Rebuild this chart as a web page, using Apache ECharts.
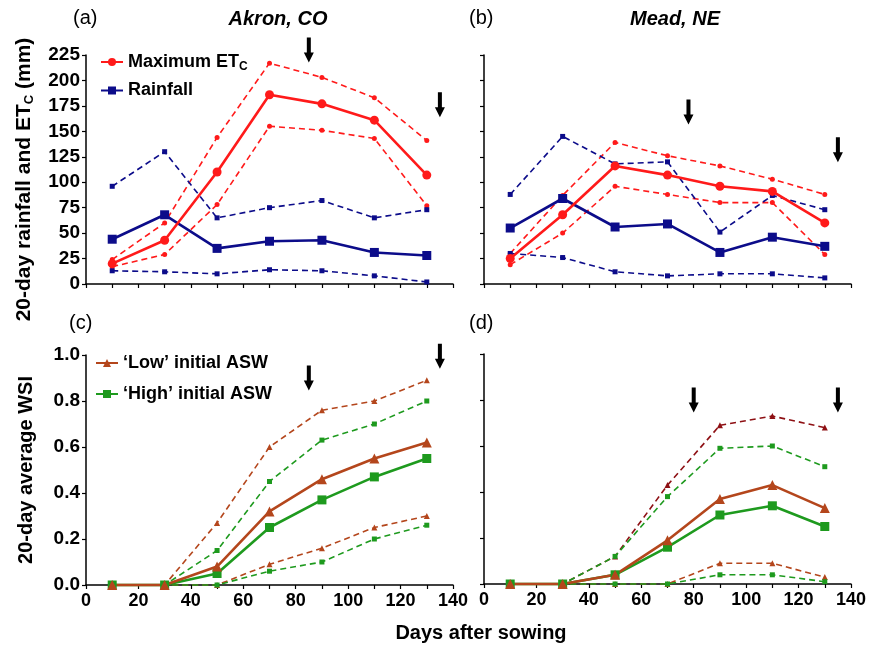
<!DOCTYPE html>
<html><head><meta charset="utf-8">
<script src="https://cdn.jsdelivr.net/npm/echarts@6/dist/echarts.min.js"></script>
<style>html,body{margin:0;padding:0;background:#fff}#c{width:874px;height:646px}</style>
</head><body><div id="c"></div>
<script>
const days = [10, 30, 50, 70, 90, 110, 130];
const rainTicks = [0, 25, 50, 75, 100, 125, 150, 175, 200, 225];
const wsiTicks = [0, 0.2, 0.4, 0.6, 0.8, 1.0];
const dayTicks = [0, 20, 40, 60, 80, 100, 120, 140];

// Akron, CO (a)
const akEt = [20, 43, 110, 186, 177, 161, 107];
const akEtHi = [24, 60, 144, 217, 203, 183, 141];
const akEtLo = [17, 29, 78, 155, 151, 143, 77];
const akRain = [44, 68, 35, 42, 43, 31, 28];
const akRainHi = [96, 130, 65, 75, 82, 65, 73];
const akRainLo = [13, 12, 10, 14, 13, 8, 2];
// Mead, NE (b)
const meEt = [25, 68, 116, 107, 96, 91, 60];
const meEtHi = [30, 87, 139, 126, 116, 103, 88];
const meEtLo = [19, 50, 96, 88, 80, 80, 29];
const meRain = [55, 84, 56, 59, 31, 46, 37];
const meRainHi = [88, 145, 118, 120, 51, 87, 73];
const meRainLo = [30, 26, 12, 8, 10, 10, 6];
// WSI Akron (c)
const akLow = [0, 0, 0.08, 0.32, 0.46, 0.55, 0.62];
const akHigh = [0, 0, 0.05, 0.25, 0.37, 0.47, 0.55];
const akLowHi = [0, 0, 0.27, 0.60, 0.76, 0.80, 0.89];
const akHighHi = [0, 0, 0.15, 0.45, 0.63, 0.70, 0.80];
const akLowLo = [0, 0, 0, 0.09, 0.16, 0.25, 0.30];
const akHighLo = [0, 0, 0, 0.06, 0.10, 0.20, 0.26];
// WSI Mead (d)
const meLow = [0, 0, 0.04, 0.19, 0.37, 0.43, 0.33];
const meHigh = [0, 0, 0.04, 0.16, 0.30, 0.34, 0.25];
const meLowHi = [0, 0, 0.12, 0.43, 0.69, 0.73, 0.68];
const meHighHi = [0, 0, 0.12, 0.38, 0.59, 0.60, 0.51];
const meLowLo = [0, 0, 0, 0, 0.09, 0.09, 0.03];
const meHighLo = [0, 0, 0, 0, 0.04, 0.04, 0.01];
// Arrows (day, value)
const arrowsA = [[85, 230], [135, 176]];
const arrowsB = [[78, 169], [135, 132]];
const arrowsC = [[85, 0.90], [135, 0.995]];
const arrowsD = [[80, 0.80], [135, 0.80]];

const RED = '#ff1a1a', NAVY = '#0c0c8a', BROWN = '#b4461c', GREEN = '#1e9a1e', MAROON = '#8e1014';
const FONT = 'Liberation Sans, Arial, sans-serif';
const pts = v => days.map((d, i) => [d, v[i]]);

function line(name, idx, vals, color, symbol, size, dashed) {
  return {
    name, type: 'line', xAxisIndex: idx, yAxisIndex: idx, data: pts(vals),
    symbol, symbolSize: size, showSymbol: true,
    lineStyle: { color, width: dashed ? 1.6 : 2.6, type: dashed ? [6, 4] : 'solid' },
    itemStyle: { color },
    z: dashed ? 2 : 4, animation: false, clip: false
  };
}
const arrowPath = 'path://M3,0 L7,0 L7,15 L10,15 L5,25 L0,15 L3,15 Z';
function arrows(idx, arr) {
  return { type: 'scatter', xAxisIndex: idx, yAxisIndex: idx, data: arr, symbol: arrowPath,
    symbolSize: [10, 25], itemStyle: { color: '#000', opacity: 1 }, clip: false, z: 6, animation: false, silent: true };
}

const grids = [
  { left: 86, top: 55, width: 367, height: 229 },
  { left: 484, top: 55, width: 367, height: 229 },
  { left: 86, top: 355, width: 367, height: 230 },
  { left: 484, top: 354, width: 367, height: 230 }
];
const axLine = { show: true, onZero: false, lineStyle: { color: '#000', width: 1.5 } };
const lblStyle = { color: '#000', fontFamily: FONT, fontWeight: 'bold' };

const xAxes = grids.map((g, i) => ({
  gridIndex: i, type: 'value', min: 0, max: 140, interval: 10,
  axisLine: axLine, splitLine: { show: false },
  axisTick: { show: true, inside: false, length: 4, lineStyle: { color: '#000', width: 1.2 } },
  axisLabel: i < 2 ? { show: false } : Object.assign({ margin: 7, fontSize: 18,
    formatter: v => (dayTicks.indexOf(v) >= 0 ? String(v) : '') }, lblStyle)
}));
const yAxes = grids.map((g, i) => {
  const top = i < 2;
  const ticks = top ? rainTicks : wsiTicks;
  const ax = {
    gridIndex: i, type: 'value', min: ticks[0], max: ticks[ticks.length - 1],
    interval: top ? 25 : 0.2,
    axisLine: axLine, splitLine: { show: false },
    axisTick: { show: true, inside: false, length: 4, lineStyle: { color: '#000', width: 1.2 } },
    axisLabel: (i % 2 === 1) ? { show: false } : Object.assign({ margin: 6, fontSize: 19,
      formatter: v => top ? String(v) : v.toFixed(1) }, lblStyle)
  };
  if (i === 0) {
    ax.name = '{a|20-day rainfall and ET}{s|C}{a| (mm)}';
    ax.nameLocation = 'middle'; ax.nameGap = 50;
    ax.nameTextStyle = { padding: [0, 20, 0, 0], rich: {
      a: { fontFamily: FONT, fontWeight: 'bold', fontSize: 21, color: '#000' },
      s: { fontFamily: FONT, fontWeight: 'bold', fontSize: 13, color: '#000', verticalAlign: 'bottom', padding: [11, 0, 0, 0] } } };
  }
  if (i === 2) {
    ax.name = '20-day average WSI';
    ax.nameLocation = 'middle'; ax.nameGap = 50;
    ax.nameTextStyle = { fontFamily: FONT, fontWeight: 'bold', fontSize: 20, color: '#000' };
  }
  return ax;
});

const series = [
  line('akEtHi', 0, akEtHi, RED, 'circle', 5, true),
  line('akEtLo', 0, akEtLo, RED, 'circle', 5, true),
  line('akRainHi', 0, akRainHi, NAVY, 'rect', 5, true),
  line('akRainLo', 0, akRainLo, NAVY, 'rect', 5, true),
  line('Rainfall', 0, akRain, NAVY, 'rect', 9, false),
  line('Maximum ETC', 0, akEt, RED, 'circle', 9, false),
  arrows(0, arrowsA),

  line('meEtHi', 1, meEtHi, RED, 'circle', 5, true),
  line('meEtLo', 1, meEtLo, RED, 'circle', 5, true),
  line('meRainHi', 1, meRainHi, NAVY, 'rect', 5, true),
  line('meRainLo', 1, meRainLo, NAVY, 'rect', 5, true),
  line('meRain', 1, meRain, NAVY, 'rect', 9, false),
  line('meEt', 1, meEt, RED, 'circle', 9, false),
  arrows(1, arrowsB),

  line('akLowHi', 2, akLowHi, BROWN, 'triangle', 6, true),
  line('akHighHi', 2, akHighHi, GREEN, 'rect', 5, true),
  line('akLowLo', 2, akLowLo, BROWN, 'triangle', 6, true),
  line('akHighLo', 2, akHighLo, GREEN, 'rect', 5, true),
  line('\u2018High\u2019 initial ASW', 2, akHigh, GREEN, 'rect', 9, false),
  line('\u2018Low\u2019 initial ASW', 2, akLow, BROWN, 'triangle', 10, false),
  arrows(2, arrowsC),

  line('meLowHi', 3, meLowHi, MAROON, 'triangle', 6, true),
  line('meHighHi', 3, meHighHi, GREEN, 'rect', 5, true),
  line('meLowLo', 3, meLowLo, BROWN, 'triangle', 6, true),
  line('meHighLo', 3, meHighLo, GREEN, 'rect', 5, true),
  line('meHigh', 3, meHigh, GREEN, 'rect', 9, false),
  line('meLow', 3, meLow, BROWN, 'triangle', 10, false),
  arrows(3, arrowsD)
];

const legText = { fontFamily: FONT, fontWeight: 'bold', fontSize: 18, color: '#000' };
const legends = [
  { orient: 'vertical', left: 95, top: 48, itemWidth: 22, itemHeight: 10, itemGap: 9,
    data: ['Maximum ETC', 'Rainfall'], selectedMode: false,
    formatter: n => n === 'Maximum ETC' ? '{a|Maximum ET}{s|C}' : '{a|' + n + '}',
    textStyle: { rich: { a: legText, s: { fontFamily: FONT, fontWeight: 'bold', fontSize: 12, color: '#000', padding: [9, 0, 0, 0] } } } },
  { orient: 'vertical', left: 90, top: 349, itemWidth: 22, itemHeight: 10, itemGap: 13,
    data: ['\u2018Low\u2019 initial ASW', '\u2018High\u2019 initial ASW'], selectedMode: false,
    textStyle: legText }
];

const titleStyle = { fontFamily: FONT, fontWeight: 'normal', fontSize: 20, color: '#000' };
const headStyle = { fontFamily: FONT, fontWeight: 'bold', fontStyle: 'italic', fontSize: 20, color: '#000' };
const titles = [
  { text: '(a)', left: 68, top: 3, textStyle: titleStyle },
  { text: '(b)', left: 464, top: 3, textStyle: titleStyle },
  { text: '(c)', left: 64, top: 308, textStyle: titleStyle },
  { text: '(d)', left: 464, top: 308, textStyle: titleStyle },
  { text: 'Akron, CO', left: 273, top: 4, textAlign: 'center', textStyle: headStyle },
  { text: 'Mead, NE', left: 670, top: 4, textAlign: 'center', textStyle: headStyle },
  { text: 'Days after sowing', left: 476, top: 618, textAlign: 'center',
    textStyle: { fontFamily: FONT, fontWeight: 'bold', fontSize: 20, color: '#000' } }
];

const chart = echarts.init(document.getElementById('c'), null, { renderer: 'canvas' });
chart.setOption({
  animation: false, backgroundColor: '#fff',
  title: titles, legend: legends, grid: grids, xAxis: xAxes, yAxis: yAxes, series
});
</script></body></html>
